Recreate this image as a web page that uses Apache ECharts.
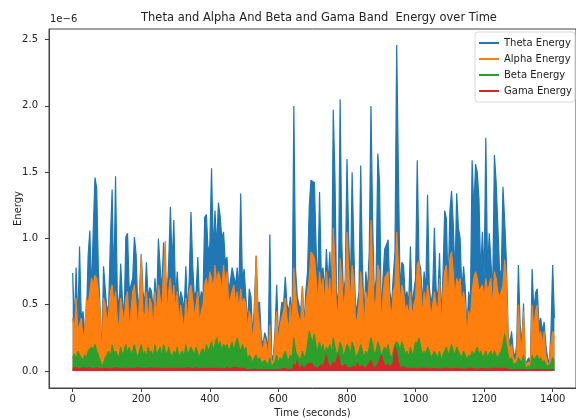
<!DOCTYPE html>
<html>
<head>
<meta charset="utf-8">
<script src="https://cdn.jsdelivr.net/npm/echarts@6/dist/echarts.min.js"></script>
<style>
html,body{margin:0;padding:0;background:#fff;}
#c{width:576px;height:420px;}
</style>
</head>
<body>
<div id="c"></div>
<script>
// sampling step of the readings (seconds)
var timeStep = 5;
var xTicks = [0, 200, 400, 600, 800, 1000, 1200, 1400];
var yTicks = [0, 0.5, 1.0, 1.5, 2.0, 2.5];
var seriesNames = ['Theta Energy', 'Alpha Energy', 'Beta Energy', 'Gama Energy'];

// values in units of 1e-6
var theta = [
0.74,0.35,0.78,0.34,0.94,0.4,0.45,0.3,0.38,0.87,
1.06,0.6,1.07,1.46,1.38,0.75,0.47,0.1,0.79,0.79,
0.45,0.5,0.99,1.37,0.6,1.47,0.6,0.45,0.81,0.55,
0.4,1.01,1.04,0.6,0.65,0.7,1.01,0.88,0.45,0.6,
0.88,0.6,0.5,0.82,0.55,0.63,0.6,0.45,0.7,0.5,
1.0,0.79,0.6,0.97,0.98,0.55,0.82,1.24,0.8,1.14,
0.55,0.75,0.5,0.6,0.55,0.45,0.79,0.45,0.7,1.2,
0.8,0.55,0.6,0.86,0.5,0.6,0.55,1.16,1.18,0.9,
0.95,1.53,0.9,1.21,0.93,1.27,1.17,1.0,1.05,0.82,
0.86,0.6,0.68,0.78,0.79,0.65,0.78,0.6,1.34,0.68,
0.77,0.76,0.35,0.62,0.56,0.25,0.5,0.87,0.5,0.52,
0.25,0.2,0.29,0.25,0.15,1.03,0.12,0.1,0.3,0.65,
0.25,0.4,0.52,0.5,0.71,0.5,0.45,0.56,0.35,2.0,
0.77,0.56,0.5,0.45,0.64,0.35,0.6,0.75,1.24,1.44,
1.45,1.42,0.93,0.63,1.35,0.73,0.78,0.6,0.92,0.66,
0.9,0.5,1.97,1.46,0.5,0.6,2.05,0.96,0.55,0.7,
1.6,1.0,0.6,1.5,0.93,0.45,0.5,0.6,1.55,0.8,
0.4,0.75,0.6,0.9,2.0,1.1,0.55,0.7,1.64,1.42,
0.4,0.7,0.92,0.95,0.99,0.6,0.5,0.71,0.9,2.46,
1.5,0.6,0.82,0.8,0.55,0.6,0.5,0.94,0.5,0.6,
0.7,1.59,0.83,0.77,0.5,0.75,0.6,1.33,0.65,0.5,
0.6,1.08,0.62,0.55,0.89,0.4,0.72,1.21,1.15,0.6,
1.2,1.36,1.11,0.7,1.34,1.08,1.0,0.6,0.79,0.63,
0.3,0.6,0.5,1.59,1.2,1.56,1.5,1.3,0.73,1.05,
0.7,1.76,0.76,1.04,1.03,0.6,1.63,1.43,1.1,0.76,
0.73,1.39,1.13,0.83,0.28,0.2,0.3,0.15,0.1,0.2,
0.8,0.35,0.2,0.51,0.05,0.04,0.1,0.05,0.77,0.45,
0.59,0.62,0.35,0.4,0.3,0.37,0.2,0.1,0.05,0.3,0.8,0.4
];
var alpha = [
0.4,0.3,0.55,0.3,0.35,0.4,0.25,0.3,0.55,0.5,
0.6,0.7,0.65,0.72,0.7,0.6,0.45,0.05,0.55,0.5,
0.35,0.45,0.6,0.65,0.5,0.6,0.4,0.3,0.55,0.45,
0.35,0.55,0.6,0.3,0.45,0.6,0.65,0.5,0.3,0.55,
0.88,0.45,0.4,0.6,0.35,0.55,0.5,0.3,0.6,0.4,
0.65,0.55,0.45,0.75,0.98,0.4,0.6,0.7,0.5,0.65,
0.45,0.6,0.35,0.5,0.4,0.3,0.55,0.35,0.6,0.65,
0.55,0.4,0.5,0.6,0.35,0.45,0.5,0.65,0.7,0.6,
0.75,0.7,0.6,0.8,0.65,0.75,0.7,0.6,0.8,0.65,
0.75,0.5,0.55,0.6,0.65,0.5,0.6,0.45,0.62,0.5,
0.55,0.5,0.3,0.45,0.4,0.2,0.4,0.87,0.45,0.35,
0.2,0.15,0.25,0.2,0.1,0.35,0.08,0.06,0.25,0.45,
0.2,0.35,0.4,0.45,0.55,0.4,0.3,0.5,0.3,0.78,
0.6,0.45,0.4,0.35,0.64,0.3,0.5,0.6,0.7,0.9,
0.88,0.85,0.7,0.5,0.75,0.6,0.7,0.5,0.75,0.55,
0.7,0.4,1.08,0.8,0.4,0.5,0.85,0.7,0.45,0.6,
1.05,0.75,0.5,0.8,0.7,0.35,0.4,0.5,0.75,0.6,
0.3,0.6,0.5,0.7,1.14,0.8,0.45,0.55,0.8,0.75,
0.35,0.55,0.7,0.7,0.75,0.5,0.4,0.6,0.65,1.05,
0.8,0.5,0.65,0.6,0.45,0.5,0.4,0.6,0.4,0.5,
0.55,0.8,0.83,0.65,0.4,0.6,0.5,0.65,0.55,0.4,
0.5,0.6,0.5,0.45,0.7,0.3,0.6,0.75,0.8,0.5,
0.85,0.9,0.75,0.55,0.7,0.65,0.7,0.5,0.6,0.5,
0.25,0.45,0.4,0.6,0.7,0.75,0.7,0.6,0.6,0.65,
0.55,0.7,0.6,0.65,0.7,0.45,0.75,0.7,0.6,0.55,
0.55,0.65,0.84,0.7,0.25,0.15,0.2,0.1,0.07,0.12,
0.5,0.25,0.15,0.45,0.04,0.03,0.07,0.04,0.5,0.3,
0.45,0.5,0.25,0.3,0.2,0.3,0.12,0.06,0.04,0.2,0.3,0.25
];
var beta = [
0.1,0.13,0.08,0.15,0.12,0.1,0.08,0.12,0.1,0.15,
0.14,0.18,0.16,0.2,0.15,0.12,0.08,0.03,0.06,0.1,
0.12,0.15,0.1,0.2,0.13,0.15,0.12,0.1,0.18,0.12,
0.15,0.2,0.13,0.18,0.12,0.15,0.2,0.13,0.1,0.15,
0.2,0.12,0.15,0.1,0.18,0.13,0.15,0.1,0.2,0.12,
0.15,0.18,0.1,0.2,0.15,0.12,0.18,0.13,0.1,0.15,
0.12,0.18,0.1,0.13,0.15,0.1,0.2,0.12,0.15,0.18,
0.15,0.12,0.18,0.13,0.1,0.15,0.17,0.12,0.2,0.15,
0.18,0.22,0.15,0.2,0.25,0.18,0.22,0.15,0.2,0.18,
0.2,0.15,0.18,0.22,0.15,0.2,0.25,0.18,0.15,0.2,
0.15,0.18,0.08,0.12,0.1,0.06,0.1,0.12,0.08,0.1,
0.06,0.05,0.08,0.06,0.04,0.1,0.03,0.02,0.07,0.12,
0.06,0.1,0.08,0.12,0.15,0.1,0.08,0.12,0.1,0.25,
0.15,0.12,0.1,0.08,0.15,0.1,0.12,0.2,0.3,0.25,
0.22,0.28,0.18,0.15,0.22,0.15,0.2,0.12,0.18,0.15,
0.2,0.12,0.25,0.18,0.12,0.15,0.22,0.18,0.1,0.15,
0.2,0.18,0.12,0.22,0.18,0.1,0.12,0.15,0.2,0.15,
0.1,0.15,0.12,0.18,0.25,0.2,0.12,0.15,0.22,0.18,
0.1,0.15,0.18,0.15,0.2,0.12,0.1,0.15,0.2,0.22,
0.2,0.15,0.22,0.18,0.12,0.15,0.1,0.18,0.12,0.15,
0.22,0.2,0.25,0.18,0.12,0.15,0.12,0.18,0.15,0.1,
0.12,0.15,0.12,0.1,0.15,0.08,0.12,0.15,0.18,0.12,
0.15,0.2,0.15,0.12,0.18,0.15,0.12,0.1,0.15,0.12,
0.08,0.12,0.1,0.15,0.12,0.15,0.18,0.12,0.15,0.1,
0.12,0.15,0.1,0.13,0.15,0.1,0.15,0.12,0.1,0.13,
0.15,0.2,0.28,0.2,0.12,0.08,0.1,0.05,0.04,0.06,
0.1,0.08,0.06,0.12,0.02,0.02,0.04,0.02,0.12,0.08,
0.1,0.12,0.08,0.1,0.06,0.08,0.05,0.03,0.02,0.06,0.1,0.08
];
var gama = [
0.02,0.015,0.025,0.02,0.015,0.02,0.025,0.015,0.02,0.02,
0.025,0.02,0.015,0.02,0.025,0.02,0.015,0.01,0.02,0.02,
0.02,0.025,0.015,0.02,0.02,0.015,0.025,0.02,0.015,0.02,
0.02,0.015,0.02,0.025,0.02,0.015,0.02,0.02,0.025,0.015,
0.02,0.025,0.02,0.015,0.02,0.02,0.025,0.015,0.02,0.02,
0.025,0.02,0.015,0.02,0.02,0.025,0.02,0.015,0.02,0.025,
0.02,0.015,0.02,0.025,0.02,0.015,0.02,0.02,0.025,0.02,
0.015,0.02,0.025,0.02,0.015,0.02,0.02,0.025,0.02,0.015,
0.02,0.025,0.02,0.015,0.02,0.025,0.02,0.02,0.015,0.02,
0.025,0.02,0.015,0.02,0.03,0.02,0.025,0.03,0.02,0.025,
0.02,0.015,0.01,0.015,0.01,0.01,0.015,0.01,0.01,0.015,
0.01,0.008,0.01,0.008,0.01,0.012,0.008,0.008,0.01,0.012,
0.01,0.012,0.015,0.01,0.02,0.015,0.01,0.02,0.015,0.05,
0.03,0.08,0.02,0.03,0.04,0.02,0.03,0.05,0.04,0.06,
0.05,0.03,0.04,0.02,0.03,0.05,0.03,0.04,0.12,0.05,
0.04,0.03,0.07,0.04,0.03,0.13,0.05,0.03,0.04,0.05,
0.03,0.04,0.02,0.03,0.04,0.02,0.06,0.03,0.02,0.04,
0.03,0.02,0.04,0.03,0.08,0.04,0.02,0.03,0.05,0.04,
0.12,0.13,0.04,0.03,0.05,0.03,0.04,0.06,0.18,0.14,
0.06,0.03,0.02,0.03,0.02,0.02,0.015,0.02,0.015,0.02,
0.02,0.015,0.02,0.02,0.015,0.02,0.015,0.02,0.02,0.015,
0.015,0.02,0.02,0.015,0.02,0.015,0.02,0.02,0.015,0.02,
0.02,0.015,0.02,0.02,0.015,0.02,0.02,0.015,0.02,0.015,
0.015,0.02,0.015,0.02,0.02,0.015,0.02,0.015,0.02,0.02,
0.02,0.015,0.02,0.015,0.02,0.02,0.015,0.02,0.015,0.02,
0.015,0.02,0.025,0.02,0.015,0.01,0.01,0.01,0.008,0.01,
0.012,0.01,0.01,0.012,0.008,0.008,0.008,0.008,0.012,0.01,
0.01,0.012,0.01,0.01,0.008,0.01,0.008,0.008,0.008,0.01,0.012,0.01
];

function pairs(arr) {
  var out = [];
  for (var i = 0; i < arr.length; i++) out.push([i * timeStep, arr[i]]);
  return out;
}

var colors = ['#1f77b4', '#ff7f0e', '#2ca02c', '#d62728'];
var font = 'DejaVu Sans';
var chart = echarts.init(document.getElementById('c'), null, {renderer: 'canvas'});

// the recorded signal oscillates every second, so at this scale each trace reads as a dense band of ink
function mkSeries(name, arr, i) {
  return {
    name: name, type: 'line', data: pairs(arr), showSymbol: false, symbol: 'none',
    sampling: null, animation: false, z: 2 + i,
    lineStyle: {color: colors[i], width: 1.2},
    areaStyle: {color: colors[i], opacity: 1, origin: 0},
    itemStyle: {color: colors[i]}
  };
}

chart.setOption({
  animation: false,
  backgroundColor: '#fff',
  title: {
    text: 'Theta and Alpha And Beta and Gama Band  Energy over Time',
    left: 314, top: 7, textAlign: 'center',
    textStyle: {fontFamily: font, fontSize: 11.5, fontWeight: 'normal', color: '#222'}
  },
  legend: {
    orient: 'vertical', left: 475, top: 32,
    padding: [5, 3, 5, 4],
    itemWidth: 20, itemHeight: 2, itemGap: 4,
    icon: 'rect',
    backgroundColor: 'rgba(255,255,255,0.85)',
    borderColor: '#d8d8d8', borderWidth: 1, borderRadius: 3,
    textStyle: {fontFamily: font, fontSize: 10, color: '#222', lineHeight: 12},
    data: seriesNames
  },
  graphic: [{
    type: 'text', left: 50, top: 14,
    style: {text: '1e\u22126', font: '10px "DejaVu Sans"', fill: '#222'}
  }],
  grid: {left: 49, right: 0, top: 29, bottom: 32, containLabel: false, outerBoundsMode: 'none',
    show: true, borderColor: '#444', borderWidth: 1, backgroundColor: 'transparent'},
  xAxis: {
    type: 'value', min: -69.1, max: 1468,
    name: 'Time (seconds)', nameLocation: 'middle', nameGap: 20,
    nameTextStyle: {fontFamily: font, fontSize: 10, color: '#222'},
    axisLine: {show: true, onZero: false, lineStyle: {color: '#444', width: 1}},
    axisTick: {show: true, inside: false, length: 4, lineStyle: {color: '#444'}, customValues: xTicks},
    axisLabel: {fontFamily: font, fontSize: 10, color: '#222', margin: 6, customValues: xTicks,
      formatter: function (v) { return String(Math.round(v)); }},
    splitLine: {show: false}
  },
  yAxis: {
    type: 'value', min: -0.128, max: 2.58,
    name: 'Energy', nameLocation: 'middle', nameGap: 26, nameRotate: 90, nameMoveOverlap: false,
    nameTextStyle: {fontFamily: font, fontSize: 10, color: '#222'},
    axisLine: {show: true, onZero: false, lineStyle: {color: '#444', width: 1}},
    axisTick: {show: true, inside: false, length: 4, lineStyle: {color: '#444'}, customValues: yTicks},
    axisLabel: {fontFamily: font, fontSize: 10, color: '#222', margin: 11, customValues: yTicks,
      formatter: function (v) { return v.toFixed(1); }},
    splitLine: {show: false}
  },
  series: [
    mkSeries(seriesNames[0], theta, 0),
    mkSeries(seriesNames[1], alpha, 1),
    mkSeries(seriesNames[2], beta, 2),
    mkSeries(seriesNames[3], gama, 3)
  ]
});
</script>
</body>
</html>
